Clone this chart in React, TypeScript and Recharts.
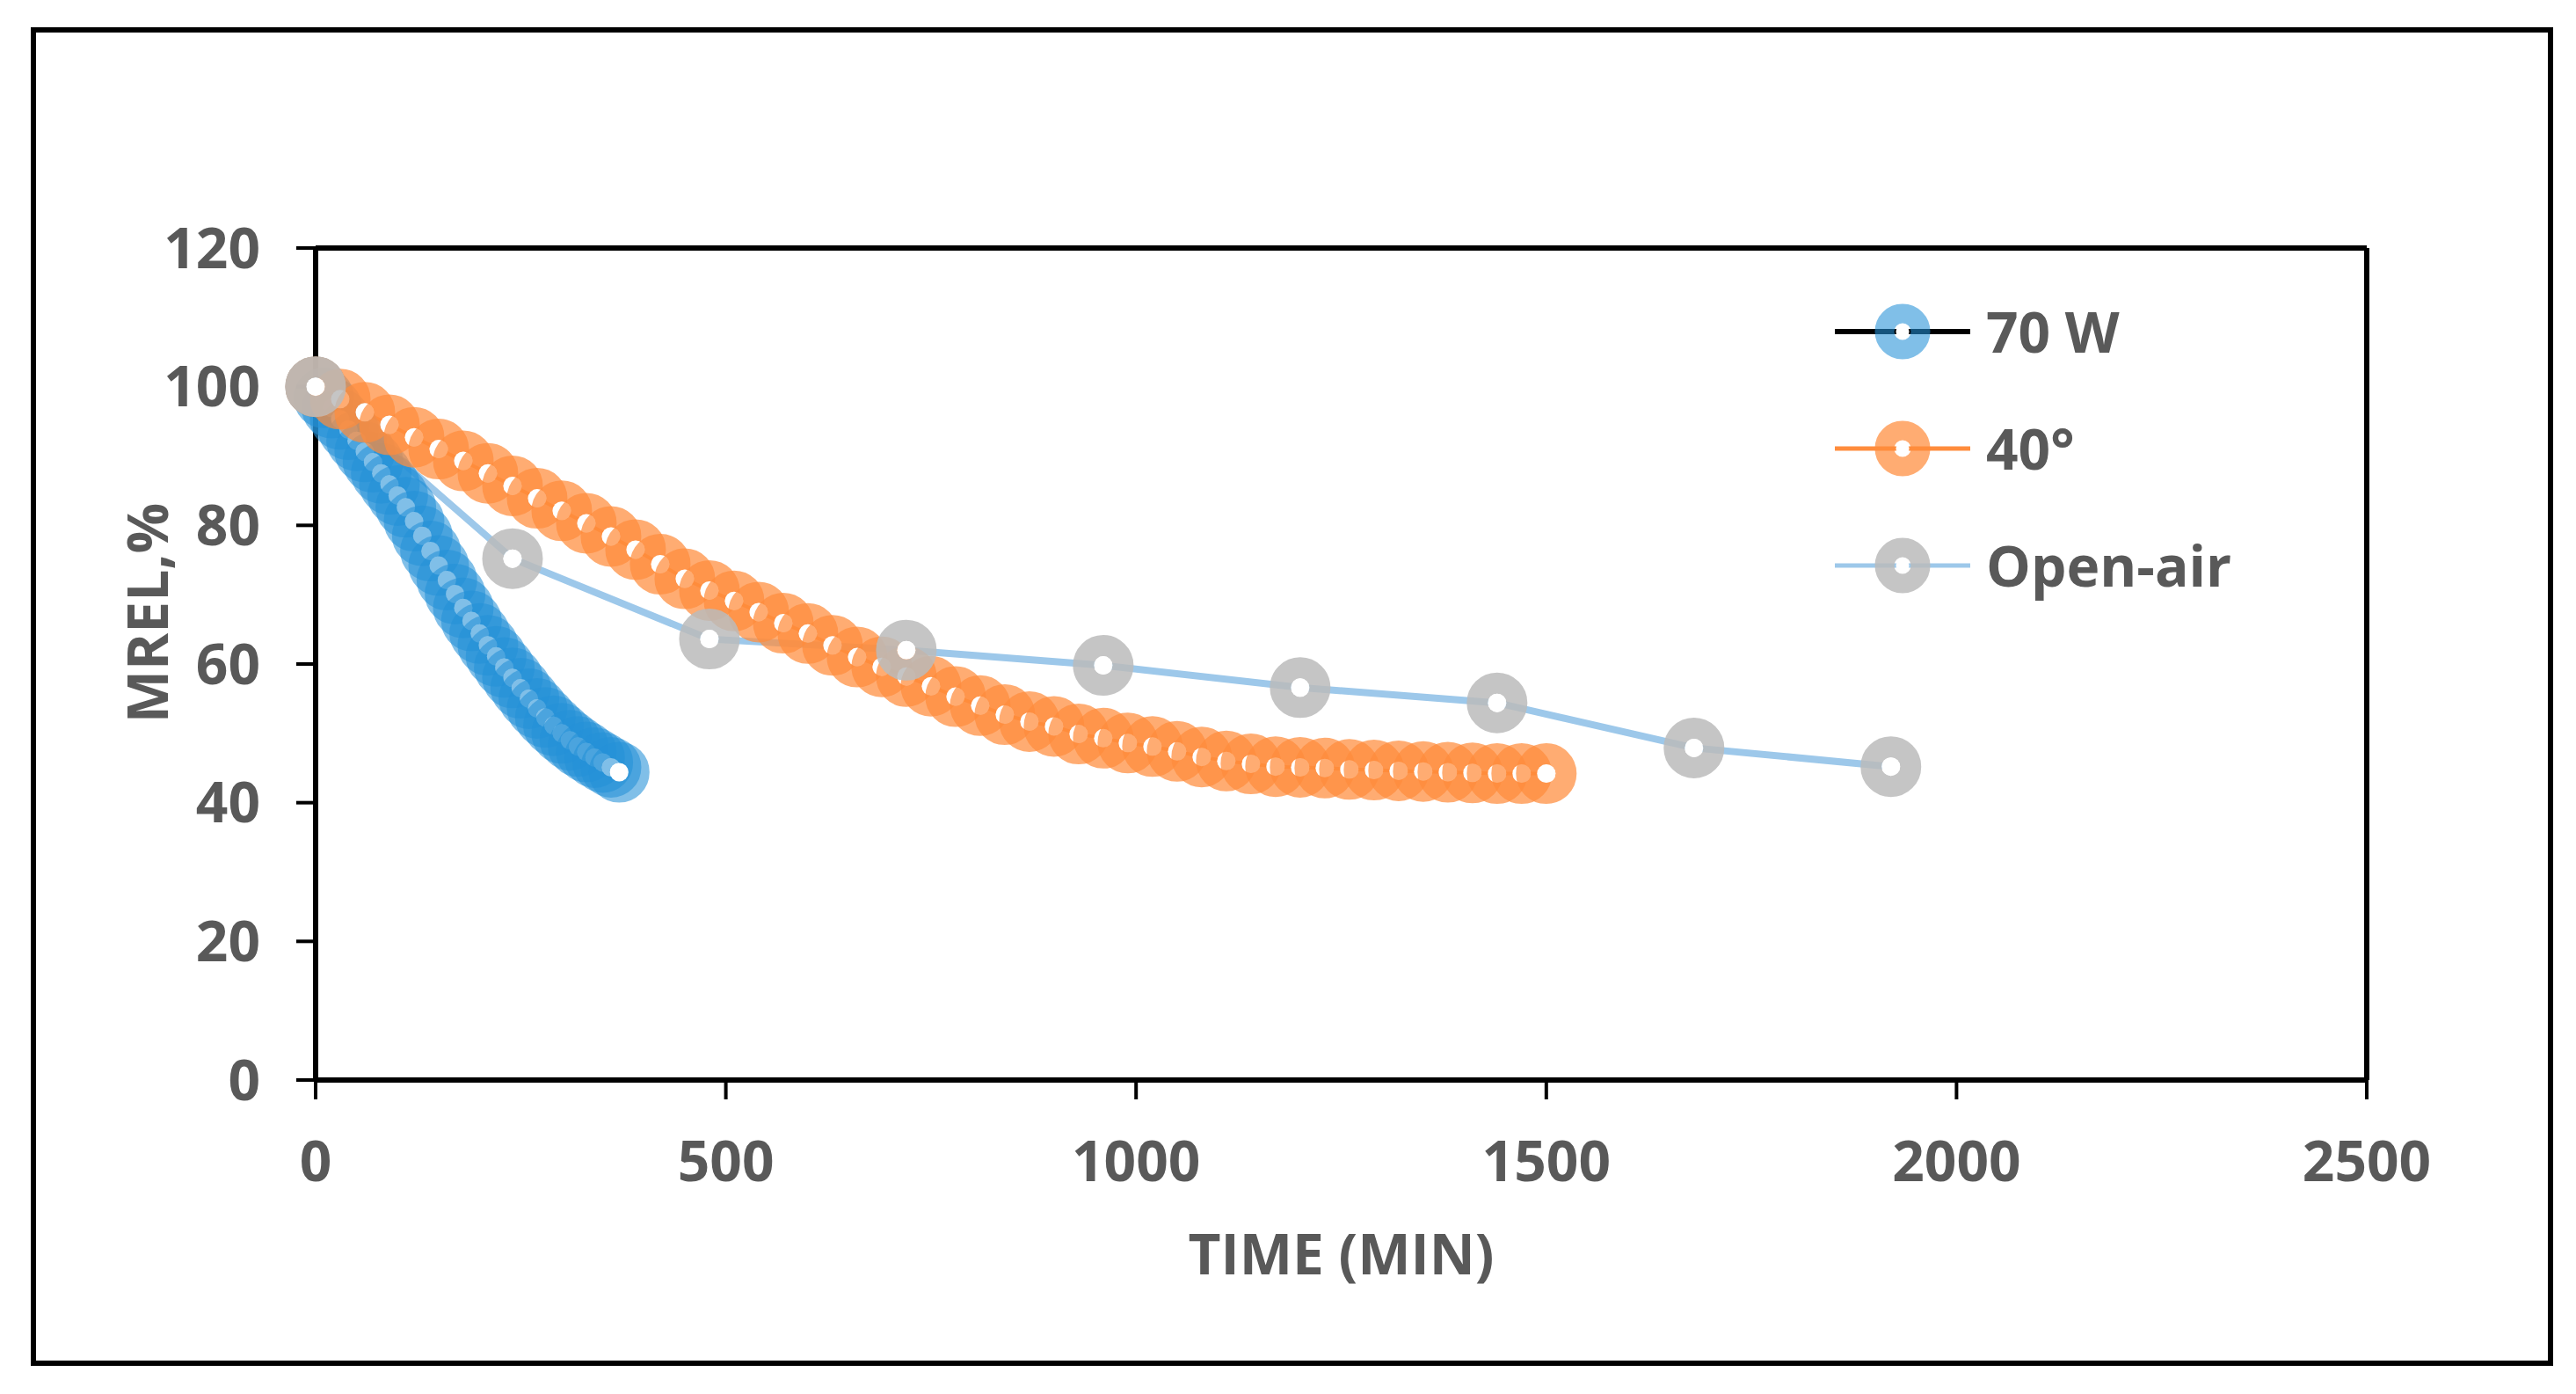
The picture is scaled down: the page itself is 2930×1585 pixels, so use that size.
import React from 'react';
import { LineChart, Line, XAxis, YAxis, ReferenceLine, Legend, Label } from 'recharts';

// ---- data ----
const seriesNames = ['70 W', '40°', 'Open-air'];

const blueTime = [
  0, 10, 20, 30, 40, 50, 60, 70, 80, 90, 100, 110, 120, 130, 140, 150, 160, 170, 180, 190,
  200, 210, 220, 230, 240, 250, 260, 270, 280, 290, 300, 310, 320, 330, 340, 350, 360, 370,
];
const blueMrel = [
  100, 98.4, 96.9, 95.3, 93.8, 92.2, 90.6, 89.1, 87.5, 85.9, 84.3, 82.6, 80.6, 78.5, 76.3, 74.2,
  72.1, 70.1, 68.1, 66.2, 64.4, 62.7, 61.1, 59.5, 58.0, 56.5, 55.0, 53.6, 52.3, 51.1, 50.0, 49.0,
  48.1, 47.3, 46.5, 45.8, 45.1, 44.4,
];

const orangeTime = [
  0, 30, 60, 90, 120, 150, 180, 210, 240, 270, 300, 330, 360, 390, 420, 450, 480, 510, 540, 570,
  600, 630, 660, 690, 720, 750, 780, 810, 840, 870, 900, 930, 960, 990, 1020, 1050, 1080, 1110,
  1140, 1170, 1200, 1230, 1260, 1290, 1320, 1350, 1380, 1410, 1440, 1470, 1500,
];
const orangeMrel = [
  100, 98.2, 96.3, 94.5, 92.7, 91, 89.3, 87.5, 85.7, 83.9, 82.1, 80.3, 78.4, 76.5, 74.4, 72.3,
  70.6, 69.1, 67.5, 65.9, 64.4, 62.7, 61.0, 59.6, 58.2, 56.8, 55.3, 54.0, 52.7, 51.7, 51.0, 49.9,
  49.3, 48.6, 48.1, 47.4, 46.6, 46.0, 45.6, 45.2, 45.1, 45.0, 44.8, 44.7, 44.6, 44.5, 44.4, 44.3,
  44.2, 44.2, 44.2,
];

const openTime = [0, 240, 480, 720, 960, 1200, 1440, 1680, 1920];
const openMrel = [100, 75.2, 63.6, 62.0, 59.8, 56.6, 54.4, 47.9, 45.2];

const xTicks = [0, 500, 1000, 1500, 2000, 2500];
const yTicks = [0, 20, 40, 60, 80, 100, 120];

const toPoints = (times: number[], values: number[]) =>
  times.map((t, i) => ({ time: t, mrel: values[i] }));

// ---- look ----
const W = 2930;
const H = 1585;
const PLOT_LEFT = 359;
const PLOT_RIGHT = 2692;
const PLOT_TOP = 282;
const PLOT_BOTTOM = 1228;
const Y_AXIS_W = 120;
const X_AXIS_H = 60;

const FONT = '"Open Sans", "Noto Sans", sans-serif';
const TEXT = '#595959';
const RING_R = 22.5;
const RING_W = 24;
const HOLE_R = 10.5;

const styles = [
  { line: '#000000', lineW: 4, ring: '#2490D8', ringOp: 0.58 },
  { line: '#FF8C3C', lineW: 4, ring: '#FF8C3C', ringOp: 0.72 },
  { line: '#9DC8EA', lineW: 8, ring: '#BBBBBB', ringOp: 0.85 },
];

const ringDot = (color: string, opacity: number) => (props: any) => {
  const { cx, cy, index } = props;
  if (cx == null || cy == null) return <g key={`d-${index}`} />;
  return (
    <g key={`d-${index}`}>
      <circle cx={cx} cy={cy} r={RING_R} fill="none" stroke={color} strokeOpacity={opacity} strokeWidth={RING_W} />
      <circle cx={cx} cy={cy} r={HOLE_R} fill="#ffffff" />
    </g>
  );
};

const LegendBox = () => (
  <div style={{ fontFamily: FONT }}>
    {seriesNames.map((name, i) => {
      const s = styles[i];
      return (
        <div key={name} style={{ display: 'flex', alignItems: 'center', height: 133 }}>
          <svg width={154} height={74}>
            <line x1={0} y1={37} x2={154} y2={37} stroke={s.line} strokeWidth={i === 0 ? 6 : 5} />
            <circle cx={77} cy={37} r={RING_R - 2} fill="none" stroke={s.ring} strokeOpacity={s.ringOp} strokeWidth={RING_W - 2} />
            <circle cx={77} cy={37} r={HOLE_R - 3} fill="#ffffff" />
          </svg>
          <span style={{ marginLeft: 18, fontSize: 64, fontWeight: 700, color: TEXT, lineHeight: 1 }}>{name}</span>
        </div>
      );
    })}
  </div>
);

const tickStyle = { fill: TEXT, fontSize: 64, fontWeight: 700, fontFamily: FONT };

export default function App() {
  const blue = toPoints(blueTime, blueMrel);
  const orange = toPoints(orangeTime, orangeMrel);
  const open = toPoints(openTime, openMrel);

  return (
    <div style={{ position: 'absolute', left: 0, top: 0, width: W, height: H, background: '#fff' }}>
      <div
        style={{
          position: 'absolute',
          left: 35,
          top: 31,
          width: 2869,
          height: 1522,
          border: '6px solid #000',
          boxSizing: 'border-box',
        }}
      />
      <div style={{ position: 'absolute', left: 0, top: 0 }}>
        <LineChart
          width={W}
          height={H}
          margin={{
            top: PLOT_TOP,
            right: W - PLOT_RIGHT,
            bottom: H - PLOT_BOTTOM - X_AXIS_H,
            left: PLOT_LEFT - Y_AXIS_W,
          }}
          style={{ fontFamily: FONT }}
        >
          <XAxis
            dataKey="time"
            type="number"
            domain={[0, 2500]}
            ticks={xTicks}
            interval={0}
            height={X_AXIS_H}
            tickSize={22}
            tickMargin={48}
            tick={tickStyle}
            axisLine={{ stroke: '#000', strokeWidth: 6 }}
            tickLine={{ stroke: '#000', strokeWidth: 4 }}
          >
            <Label
              content={() => (
                <text
                  x={(PLOT_LEFT + PLOT_RIGHT) / 2}
                  y={1449}
                  textAnchor="middle"
                  fill={TEXT}
                  fontSize={64}
                  fontWeight={700}
                  fontFamily={FONT}
                >
                  TIME (MIN)
                </text>
              )}
            />
          </XAxis>
          <YAxis
            dataKey="mrel"
            type="number"
            domain={[0, 120]}
            ticks={yTicks}
            interval={0}
            width={Y_AXIS_W}
            tickSize={22}
            tickMargin={41}
            tick={tickStyle}
            axisLine={{ stroke: '#000', strokeWidth: 6 }}
            tickLine={{ stroke: '#000', strokeWidth: 4 }}
          >
            <Label
              content={() => (
                <text
                  x={191}
                  y={697}
                  transform="rotate(-90 191 697)"
                  textAnchor="middle"
                  fill={TEXT}
                  fontSize={64}
                  fontWeight={700}
                  fontFamily={FONT}
                >
                  MREL,%
                </text>
              )}
            />
          </YAxis>
          <ReferenceLine y={120} stroke="#000" strokeWidth={6} />
          <ReferenceLine x={2500} stroke="#000" strokeWidth={6} />
          <Line
            data={blue}
            dataKey="mrel"
            name={seriesNames[0]}
            stroke={styles[0].line}
            strokeWidth={styles[0].lineW}
            dot={ringDot(styles[0].ring, styles[0].ringOp)}
            activeDot={false}
            isAnimationActive={false}
          />
          <Line
            data={orange}
            dataKey="mrel"
            name={seriesNames[1]}
            stroke={styles[1].line}
            strokeWidth={styles[1].lineW}
            dot={ringDot(styles[1].ring, styles[1].ringOp)}
            activeDot={false}
            isAnimationActive={false}
          />
          <Line
            data={open}
            dataKey="mrel"
            name={seriesNames[2]}
            stroke={styles[2].line}
            strokeWidth={styles[2].lineW}
            dot={ringDot(styles[2].ring, styles[2].ringOp)}
            activeDot={false}
            isAnimationActive={false}
          />
          <Legend
            layout="vertical"
            align="center"
            verticalAlign="middle"
            content={() => <LegendBox />}
            wrapperStyle={{ left: 2087, top: 310, width: 700, right: 'auto', bottom: 'auto' }}
          />
        </LineChart>
      </div>
    </div>
  );
}
